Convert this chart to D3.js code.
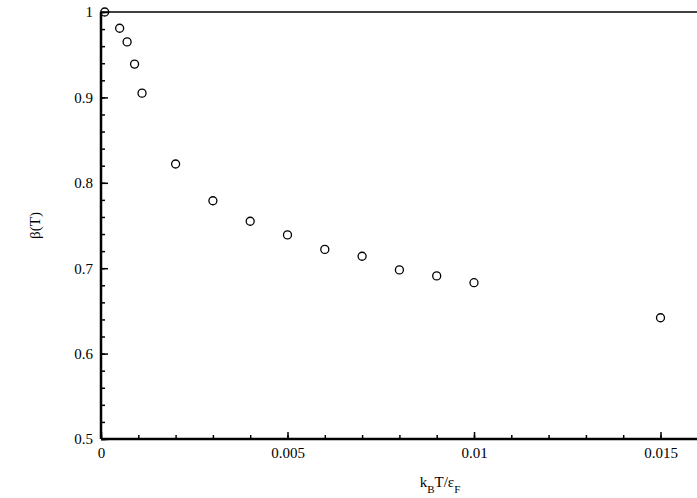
<!DOCTYPE html>
<html>
<head>
<meta charset="UTF-8">
<script src="https://d3js.org/d3.v7.min.js"></script>
<style>body{margin:0;background:#fff}text{font-family:"Liberation Serif",serif;font-size:15px}</style>
</head>
<body>
<div id="chart"></div>
<script>
const temps = [0.0001, 0.0005, 0.0007, 0.0009, 0.0011, 0.002, 0.003, 0.004, 0.005, 0.006, 0.007, 0.008, 0.009, 0.01, 0.015];
const betas = [1.0, 0.981, 0.965, 0.939, 0.905, 0.822, 0.779, 0.755, 0.739, 0.722, 0.714, 0.698, 0.691, 0.683, 0.642];
const xTicks = [0, 0.005, 0.01, 0.015];
const yTicks = [0.5, 0.6, 0.7, 0.8, 0.9, 1];

const W = 697, H = 498;
const m = {left: 101, top: 12, bottom: 59};
const x = d3.scaleLinear().domain([0, 0.016]).range([m.left, m.left + 0.016 / 0.005 * 186.5]);
const y = d3.scaleLinear().domain([0.5, 1]).range([H - m.bottom, m.top]);

const svg = d3.select("#chart").append("svg").attr("width", W).attr("height", H);

// minor ticks
svg.append("g").attr("transform", `translate(0,${y(0.5)})`)
  .call(d3.axisBottom(x).tickValues(d3.range(0, 0.0161, 0.001)).tickSize(-4).tickFormat(""))
  .call(g => g.select(".domain").remove())
  .selectAll("line").attr("stroke-width", 1.5);
svg.append("g").attr("transform", `translate(${m.left},0)`)
  .call(d3.axisLeft(y).tickValues(d3.range(0.5, 1.001, 0.02)).tickSize(-4).tickFormat(""))
  .call(g => g.select(".domain").remove())
  .selectAll("line").attr("stroke-width", 1.5);

const xa = svg.append("g").attr("transform", `translate(0,${y(0.5)})`)
  .call(d3.axisBottom(x).tickValues(xTicks).tickSize(-7).tickPadding(8).tickFormat(d => d === 0 ? "0" : String(d)));
xa.select(".domain").attr("stroke-width", 2.5).attr("d", `M${m.left},0H${W}`);
xa.selectAll("line").attr("stroke-width", 1.5);
xa.selectAll("text").style("font-size", "15px").attr("fill", "#000");

const ya = svg.append("g").attr("transform", `translate(${m.left},0)`)
  .call(d3.axisLeft(y).tickValues(yTicks).tickSize(-7).tickPadding(8).tickFormat(d => String(d)));
ya.select(".domain").attr("stroke-width", 2.5).attr("d", `M0,${y(0.5)}V${m.top}`);
ya.selectAll("line").attr("stroke-width", 1.5);
ya.selectAll("text").style("font-size", "15px").attr("fill", "#000");

svg.append("line").attr("x1", m.left).attr("x2", W).attr("y1", m.top).attr("y2", m.top)
  .attr("stroke", "#000").attr("stroke-width", 1.5);

svg.selectAll("circle.pt").data(temps).join("circle").attr("class", "pt")
  .attr("cx", (d) => x(d)).attr("cy", (d, i) => y(betas[i])).attr("r", 4)
  .attr("fill", "none").attr("stroke", "#000").attr("stroke-width", 1.3);

const xl = svg.append("text").attr("x", 440).attr("y", 487).attr("text-anchor", "middle");
xl.append("tspan").text("k");
xl.append("tspan").attr("baseline-shift", "sub").style("font-size", "11px").text("B");
xl.append("tspan").text("T/ε");
xl.append("tspan").attr("baseline-shift", "sub").style("font-size", "11px").text("F");

svg.append("text").attr("transform", `translate(40,${(y(0.5) + m.top) / 2}) rotate(-90)`)
  .attr("text-anchor", "middle").text("β(T)");
</script>
</body>
</html>
